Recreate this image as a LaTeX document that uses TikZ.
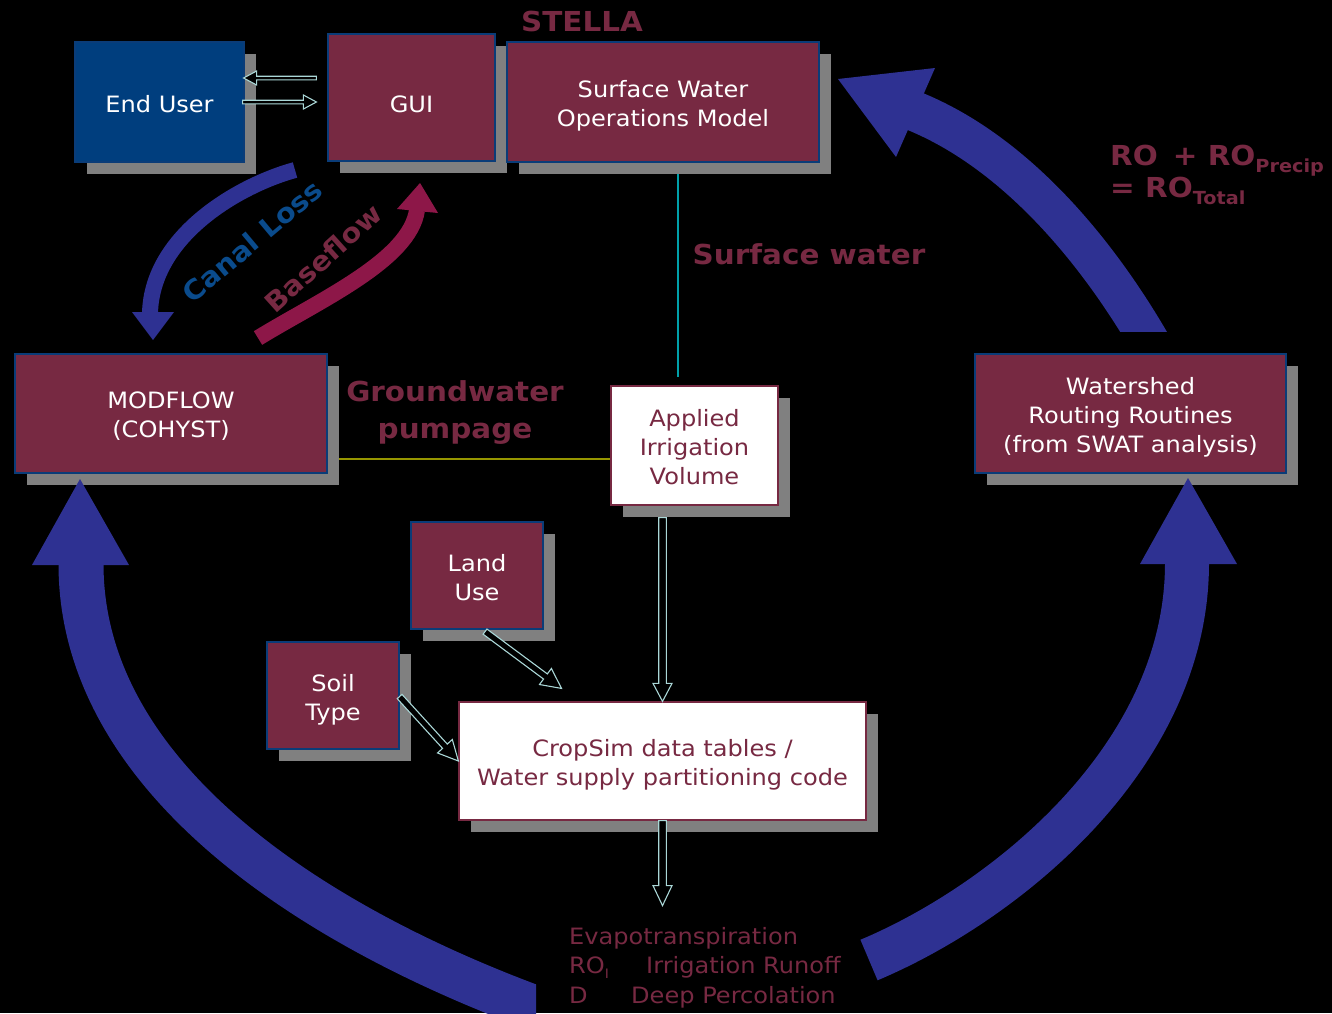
\documentclass[tikz,border=0pt]{standalone}
\usepackage{fontspec}
\setmainfont[FakeStretch=1.07]{DejaVu Sans}
\usetikzlibrary{calc,shadows}
\definecolor{boxfill}{RGB}{119,41,66}
\definecolor{boxline}{RGB}{10,60,120}
\definecolor{userfill}{RGB}{0,62,126}
\definecolor{txtmaroon}{RGB}{119,41,66}
\definecolor{shadowgray}{RGB}{128,128,128}
\definecolor{bigblue}{RGB}{46,49,146}
\definecolor{baseflowred}{RGB}{141,23,72}
\definecolor{canalblue}{RGB}{10,75,140}
\definecolor{arrowline}{RGB}{170,215,215}
\definecolor{swcolor}{RGB}{0,160,170}
\definecolor{gwcolor}{RGB}{150,150,0}
\newcommand\boxfont{\fontsize{22.5}{29}\selectfont}
\newcommand\bigbold{\bfseries\fontsize{27.5}{37}\selectfont}
\newcommand\subbold{\bfseries\fontsize{18}{18}\selectfont}
\newcommand\lift[1]{\rule{0pt}{#1}}
\newcommand\hollowarr[5]{%
  \coordinate (hah) at ($(#2)!#5!(#1)$);
  \draw[hollow] ($(#1)!#3!90:(#2)$) -- ($(hah)!#3!90:(#2)$) -- ($(hah)!#4!90:(#2)$) -- (#2)
    -- ($(hah)!#4!-90:(#2)$) -- ($(hah)!#3!-90:(#2)$) -- ($(#1)!#3!-90:(#2)$) -- cycle;}
\pgfdeclarelayer{backdrop}
\pgfdeclarelayer{bg}
\pgfsetlayers{backdrop,bg,main}
\begin{document}
\begin{tikzpicture}[x=1pt,y=-1pt,
  shadowed/.style={drop shadow={shadow xshift=12pt, shadow yshift=-12pt, opacity=1, fill=shadowgray}},
  mbox/.style={draw=boxline, line width=1.2pt, fill=boxfill, text=white, inner sep=0pt,
     align=center, font=\boxfont, shadowed},
  wbox/.style={mbox, fill=white, draw=boxfill, text=txtmaroon},
  hollow/.style={draw=arrowline, line width=1.1pt, fill=black, line join=miter},
  lbl/.style={text=txtmaroon, inner sep=0pt},
]
\begin{pgfonlayer}{backdrop}
\fill[black] (0,0) rectangle (1332,1013);
\end{pgfonlayer}
\useasboundingbox (0,0) rectangle (1332,1013);

% boxes
\node[mbox, fill=userfill, minimum width=169pt, minimum height=120pt] (enduser) at (159.5,102) {\lift{21pt}End User};
\node[mbox, minimum width=167pt, minimum height=127pt] (gui) at (411.5,97.5) {\lift{29.5pt}GUI};
\node[mbox, minimum width=312pt, minimum height=120pt] (swom) at (663,102) {\lift{25pt}Surface Water\\Operations Model};
\node[mbox, minimum width=312pt, minimum height=119pt] (modflow) at (171,413.5) {\lift{22.5pt}MODFLOW\\(COHYST)};
\node[mbox, minimum width=311pt, minimum height=119pt] (watershed) at (1130.5,413.5) {\lift{25pt}Watershed\\Routing Routines\\(from SWAT analysis)};
\node[wbox, minimum width=167pt, minimum height=119pt] (applied) at (694.5,445.5) {\lift{21pt}Applied\\Irrigation\\Volume};
\node[mbox, minimum width=132pt, minimum height=107pt] (landuse) at (477,575.5) {\lift{21pt}Land\\Use};
\node[mbox, minimum width=132pt, minimum height=107pt] (soil) at (333,695.5) {\lift{25pt}Soil\\Type};
\node[wbox, minimum width=407pt, minimum height=118pt] (cropsim) at (662.5,761) {\lift{25pt}CropSim data tables /\\Water supply partitioning code};

% thin connector lines behind the shadows
\coordinate (swx) at (678,0);
\coordinate (sw1) at (swom.south -| swx);
\coordinate (sw2) at (applied.north -| swx);
\coordinate (gw) at ([yshift=-13.5pt]applied.west);
\begin{pgfonlayer}{bg}
\draw[swcolor, line width=1.3pt] (sw1) -- ([yshift=8pt]sw2);
\draw[gwcolor, line width=1.3pt] (modflow.east |- gw) -- (gw);
\end{pgfonlayer}

% hollow arrows
\coordinate (eu1) at ([yshift=24pt,xshift=-1pt]enduser.east);
\coordinate (eu2) at ([xshift=-2pt]enduser.east);
\coordinate (gw0) at ([xshift=-11pt]gui.west);
\coordinate (gu1) at (gw0 |- eu1);
\coordinate (gu2) at (gw0 |- eu2);
\hollowarr{gu1}{eu1}{1.8pt}{7pt}{13pt}
\hollowarr{eu2}{gu2}{1.8pt}{7pt}{13pt}
\coordinate (lu1) at ([xshift=8pt,yshift=-2pt]landuse.south);
\coordinate (lu2) at ([xshift=-101pt,yshift=13pt]cropsim.north);
\hollowarr{lu1}{lu2}{3.2pt}{10pt}{20pt}
\coordinate (st1) at ([yshift=-1pt]soil.east);
\hollowarr{st1}{cropsim.west}{3.2pt}{10pt}{20pt}
\coordinate (ap0) at (applied.south -| cropsim.north);
\coordinate (ap1) at ([yshift=-12pt]ap0);
\hollowarr{ap1}{cropsim.north}{3.8pt}{9.5pt}{18pt}
\coordinate (out) at ([yshift=-85pt]cropsim.south);
\hollowarr{cropsim.south}{out}{3.8pt}{9.5pt}{20pt}

% big cycle arrows
\begin{scope}
\clip (0,0) rectangle (536,1013);
\draw[bigblue, line width=45pt] (546,1012) .. controls (311,927) and (81,777) .. (81,564);
\end{scope}
\coordinate (lt) at (80,479);
\fill[bigblue] (32,565) -- (129,565) -- (lt) -- cycle;

\draw[bigblue, line width=44pt] (869,960) .. controls (1000,905) and (1187,760) .. (1187,563);
\coordinate (rt) at (1188,478);
\fill[bigblue] (1140,564) -- (1237,564) -- (rt) -- cycle;

\begin{scope}
\clip (0,0) rectangle (1332,331);
\draw[bigblue, line width=40pt] (1152,346) .. controls (1092,242) and (1010,150) .. (914,111);
\end{scope}
\coordinate (tt) at (838,79);
\fill[bigblue] (935,68) -- (896,157) -- (tt) -- cycle;

% canal loss / baseflow arrows
\draw[bigblue, line width=16pt] (295,170) .. controls (240,185) and (152,235) .. (150,313);
\fill[bigblue] (132,312) -- (174,312) -- (153,340) -- cycle;
\draw[baseflowred, line width=16pt] (258,338) .. controls (320,300) and (410,260) .. (417,210);
\fill[baseflowred] (397,209) -- (438,213) -- (420,183) -- cycle;

% labels
\node[lbl, font=\bigbold] (stella) at (582,21) {STELLA};
\node[lbl, font=\bigbold] (swlabel) at (809,254) {Surface water};
\node[lbl, font=\bigbold, align=center] (gwlabel) at (455,413) {Groundwater\\pumpage};
\node[inner sep=0pt, text=canalblue, font=\bfseries\fontsize{27}{27}\selectfont, rotate=40] (canal) at (252,241) {Canal Loss};
\node[inner sep=0pt, text=txtmaroon, font=\bfseries\fontsize{27}{27}\selectfont, rotate=42] (baseflow) at (323,258) {Baseflow};
\node[lbl, font=\bigbold, anchor=base west] (ro1) at (1110,165) {RO\hspace{15pt}+ RO\raisebox{-7pt}{\subbold Precip}};
\node[lbl, font=\bigbold, anchor=base west] (ro2) at (1110,197) {= RO\raisebox{-7pt}{\subbold Total}};
\node[lbl, font=\boxfont, anchor=base west] (et) at (569,944) {Evapotranspiration};
\node[lbl, font=\boxfont, anchor=base west] (roi) at (569,973) {\makebox[77pt][l]{RO\raisebox{-5pt}{\fontsize{13}{13}\selectfont I}}Irrigation Runoff};
\node[lbl, font=\boxfont, anchor=base west] (dp) at (569,1003) {\makebox[62pt][l]{D}Deep Percolation};
\end{tikzpicture}
\end{document}
